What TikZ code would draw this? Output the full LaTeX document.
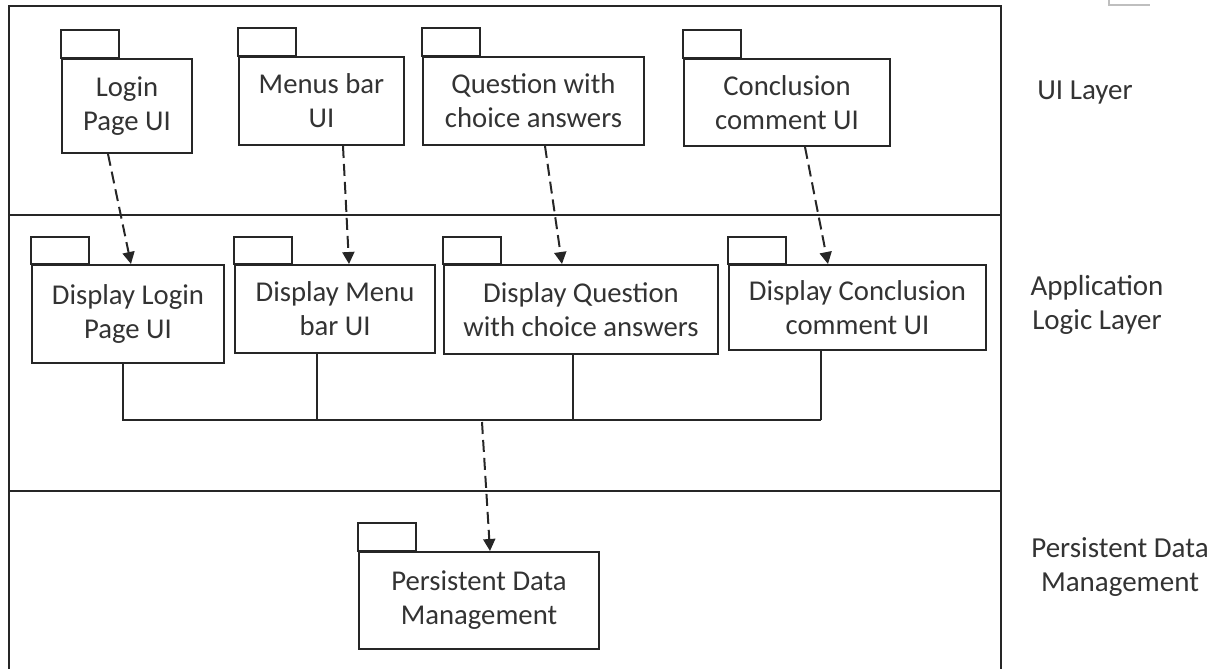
\documentclass[tikz,border=0pt]{standalone}
\usepackage{fontspec}
\setmainfont{Carlito}
\usetikzlibrary{arrows.meta,calc}
\definecolor{ink}{HTML}{262626}
\definecolor{txt}{HTML}{333333}
\begin{document}
\begin{tikzpicture}[x=1pt,y=-1pt,
  line width=2pt,
  pkgbody/.style={draw=ink, anchor=north west, align=center, inner sep=0pt,
    text=txt, font=\fontsize{28.7}{34}\selectfont},
  pkgtab/.style={draw=ink},
  frame/.style={draw=ink},
  dep/.style={draw=ink, dash pattern=on 12pt off 6pt,
    -{Triangle[width=12pt,length=12pt]}},
  wire/.style={draw=ink},
  layerlabel/.style={text=txt, align=center, inner sep=0pt,
    font=\fontsize{29}{34}\selectfont}]
\useasboundingbox (0,0) rectangle (1216,669);

% outer frame and layer separators
\draw[frame] (9,669) -- (9,6) -- (1001,6) -- (1001,669);
\draw[frame] (9,215) -- (1001,215);
\draw[frame] (9,491) -- (1001,491);
\draw[draw=black!25, line width=1.5pt] (1109,0) -- (1109,5) -- (1150,5);

% layer labels
\node[layerlabel] (lui) at (1085,93) {UI Layer};
\node[layerlabel] (lapp) at (1097,305) {Application\\Logic Layer};
\node[layerlabel] (lpdm) at (1120,567) {Persistent Data\\Management};

% UI layer packages
\node[pkgbody, minimum width=130, minimum height=94] (login) at (61,58) {Login\\Page UI};
\node[pkgbody, minimum width=165, minimum height=88] (menu) at (238,56) {Menus bar\\UI};
\node[pkgbody, minimum width=221, minimum height=88] (quest) at (422,56) {Question with\\choice answers};
\node[pkgbody, minimum width=206, minimum height=87] (concl) at (683,58) {Conclusion\\comment UI};
\foreach \p in {login,menu,quest,concl}
  \draw[pkgtab] (\p.north west) rectangle ++(58,-28);

% application logic layer packages
\node[pkgbody, minimum width=192, minimum height=98] (dlogin) at (31,264) {Display Login\\Page UI};
\node[pkgbody, minimum width=200, minimum height=88] (dmenu) at (234,264) {Display Menu\\bar UI};
\node[pkgbody, minimum width=274, minimum height=89] (dquest) at (443,264) {Display Question\\with choice answers};
\node[pkgbody, minimum width=257, minimum height=85] (dconcl) at (728,264) {Display Conclusion\\comment UI};
\foreach \p in {dlogin,dmenu,dquest,dconcl}
  \draw[pkgtab] (\p.north west) rectangle ++(58,-27);

% persistent data management package
\node[pkgbody, minimum width=240, minimum height=97] (pdm) at (358,551) {Persistent Data\\Management};
\draw[pkgtab] (pdm.north west) rectangle ++(58,-28);

% UI -> application logic dependencies
\draw[dep] ([xshift=47pt]login.south west) -- ([xshift=100pt]dlogin.north west);
\draw[dep] ([xshift=105pt]menu.south west) -- ([xshift=115pt]dmenu.north west);
\draw[dep] ([xshift=123pt]quest.south west) -- ([xshift=119pt]dquest.north west);
\draw[dep] ([xshift=122pt]concl.south west) -- ([xshift=100pt]dconcl.north west);

% collector bus below the application logic packages
\coordinate (busL) at (123,420);
\coordinate (busR) at (821,420);
\draw[wire] ([xshift=92pt]dlogin.south west) -- (busL) -- (busR);
\draw[wire] ([xshift=83pt]dmenu.south west) -- ([xshift=83pt]dmenu.south west |- busL);
\draw[wire] ([xshift=130pt]dquest.south west) -- ([xshift=130pt]dquest.south west |- busL);
\draw[wire] ([xshift=93pt]dconcl.south west) -- (busR);

% application logic -> persistent data dependency
\coordinate (busM) at (482,422);
\draw[dep] (busM) -- ([xshift=132pt]pdm.north west);
\end{tikzpicture}
\end{document}
